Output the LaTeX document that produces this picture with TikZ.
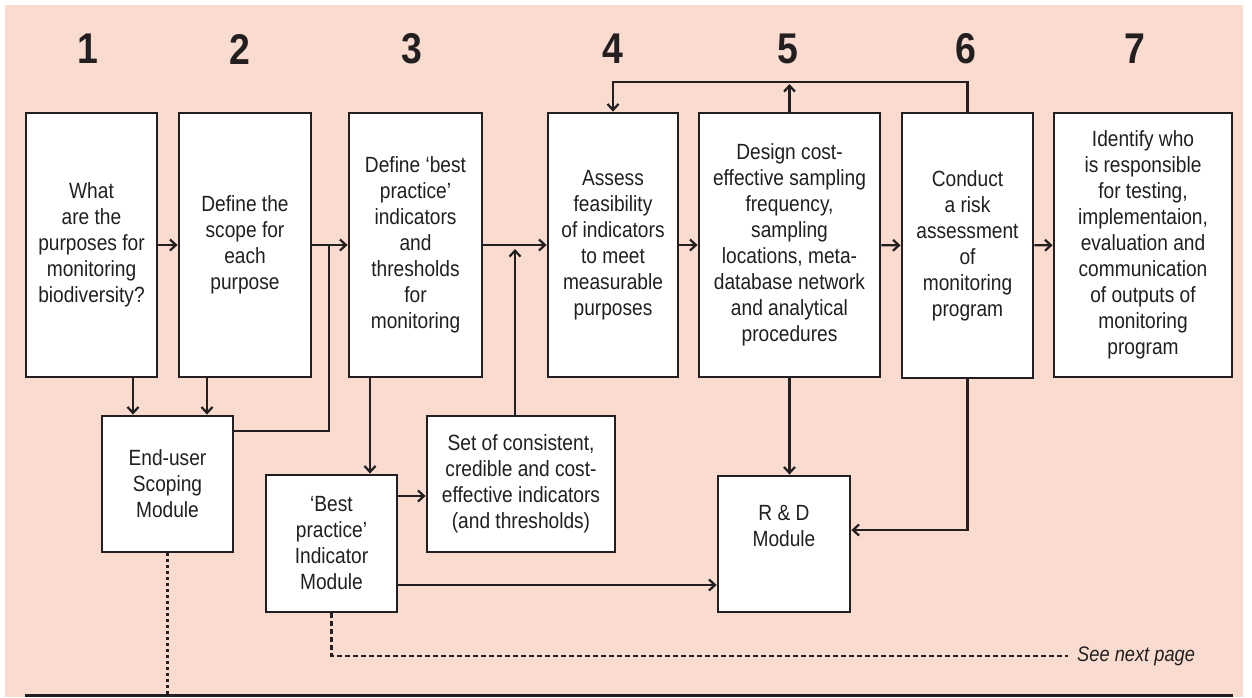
\documentclass[tikz,border=0pt]{standalone}
\usepackage{fontspec}
\setmainfont{Liberation Sans}[FakeStretch=0.87]
\usetikzlibrary{arrows.meta}
\definecolor{peach}{RGB}{249,220,207}
\definecolor{ink}{RGB}{35,31,32}
\begin{document}
\begin{tikzpicture}[x=1pt,y=-1pt,
  every node/.style={font=\fontsize{22}{26}\selectfont, text=ink},
  box/.style={draw=ink, fill=white, line width=2.8pt, rectangle, inner sep=0pt, align=center},
  topbox/.style={box, minimum height=264pt},
  conn/.style={draw=ink, line width=2.2pt},
  arr/.style={conn, -{Straight Barb[length=6pt,width=11pt,line width=2.2pt]}},
  numlab/.style={font=\fontsize{43}{43}\selectfont\bfseries, text=ink},
  dotline/.style={conn, line width=2.3pt, dash pattern=on 3pt off 3pt},
  dashline/.style={conn, line width=2.3pt, dash pattern=on 5pt off 3pt}]
\useasboundingbox (0,0) rectangle (1252,697);
\fill[peach] (5,5) rectangle (1243,697);
% numbers
\node[numlab] (n1) at (88,49) {1};
\node[numlab] (n2) at (240,49) {2};
\node[numlab] (n3) at (412,49) {3};
\node[numlab] (n4) at (613,49) {4};
\node[numlab] (n5) at (788,49) {5};
\node[numlab] (n6) at (966,49) {6};
\node[numlab] (n7) at (1135,49) {7};
% top boxes
\node[topbox, minimum width=131pt] (b1) at (91.5,245) {What\\are the\\purposes for\\monitoring\\biodiversity?};
\node[topbox, minimum width=132pt] (b2) at (245,245) {Define the\\scope for\\each\\purpose};
\node[topbox, minimum width=133pt] (b3) at (415.5,245) {Define ‘best\\practice’\\indicators\\and\\thresholds\\for\\monitoring};
\node[topbox, minimum width=130pt] (b4) at (613,245) {Assess\\feasibility\\of indicators\\to meet\\measurable\\purposes};
\node[topbox, minimum width=181pt] (b5) at (789.5,245) {Design cost-\\effective sampling\\frequency,\\sampling\\locations, meta-\\database network\\and analytical\\procedures};
\node[topbox, minimum width=131pt, minimum height=265pt] (b6) at (967.5,245.5) {Conduct\\a risk\\assessment\\of\\monitoring\\program};
\node[topbox, minimum width=178pt] (b7) at (1143,245) {Identify who\\is responsible\\for testing,\\implementaion,\\evaluation and\\communication\\of outputs of\\monitoring\\program};
% lower boxes
\node[box, minimum width=131pt, minimum height=136pt] (eu) at (167.5,484) {End-user\\Scoping\\Module};
\node[box, minimum width=131pt, minimum height=137pt] (bp) at (331.5,543.5) {‘Best\\practice’\\Indicator\\Module};
\node[box, minimum width=188pt, minimum height=136pt] (set) at (521,484) {Set of consistent,\\credible and cost-\\effective indicators\\(and thresholds)};
\node[box, minimum width=132pt, minimum height=136pt] (rd) at (784,544) {R \& D\\Module\\[10pt]};
% helper coordinates
\coordinate (top) at (0,82);
\coordinate (xa) at (133,0);
\coordinate (xb) at (207,0);
\coordinate (xc) at (370,0);
\coordinate (j23) at (329,245);
\coordinate (j1) at (329,431);
\coordinate (j34) at (515,249);
\coordinate (xs) at (515,0);
\coordinate (ybs) at (0,496);
\coordinate (ybr) at (0,585);
\coordinate (yrd) at (0,530);
\coordinate (bot) at (0,695);
\coordinate (yd) at (0,656);
\coordinate (dend) at (1068,656);
% horizontal arrows top row
\draw[arr] (b1) -- (b2);
\draw[arr] (b2) -- (b3);
\draw[arr] (b3) -- (b4);
\draw[arr] (b4) -- (b5);
\draw[arr] (b5) -- (b6);
\draw[arr] (b6) -- (b7);
% down to end-user
\draw[arr] (b1.south -| xa) -- (eu.north -| xa);
\draw[arr] (b2.south -| xb) -- (eu.north -| xb);
\draw[conn] (eu.east |- j1) -- (j1) -- (j23);
% best practice
\draw[arr] (b3.south -| xc) -- (bp.north -| xc);
\draw[arr] (bp.east |- ybs) -- (set.west |- ybs);
\draw[arr] (set.north -| xs) -- (j34);
\draw[arr] (bp.east |- ybr) -- (rd.west |- ybr);
% R&D
\draw[arr] (b5.south) -- (rd.north -| b5.south);
\draw[arr] (b6.south) |- (rd.east |- yrd);
% feedback loop
\draw[arr] (b6.north) |- (top -| b4.north) -- (b4.north);
\draw[arr] (b5.north) -- ([yshift=-2pt]b5.north |- top);
% dotted / dashed
\draw[dotline] (eu.south) -- (eu.south |- bot);
\draw[dashline] (bp.south) |- (dend);
\node[anchor=west, font=\fontsize{21}{24}\selectfont\itshape, inner sep=0pt] (see) at (1077,656) {See next page};
% bottom rule
\coordinate (bl) at (25,695);
\coordinate (br) at (1233,695);
\draw[ink, line width=3pt] (bl) -- (br);
\end{tikzpicture}
\end{document}
